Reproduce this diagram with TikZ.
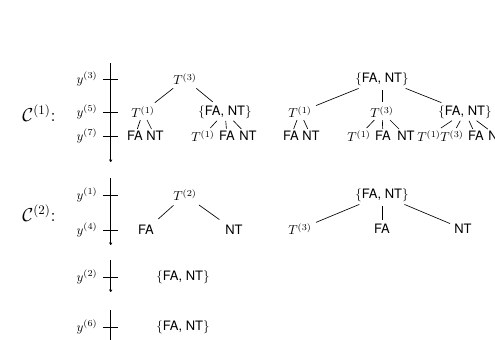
\documentclass[tikz,border=0pt]{standalone}
\usepackage{fontspec}
\setsansfont{TeX Gyre Heros}
\usetikzlibrary{arrows.meta}
\newcommand{\fa}{\textsf{FA}}
\newcommand{\nt}{\textsf{NT}}
\newcommand{\fant}{$\{$\textsf{FA, NT}$\}$}
\begin{document}
\begin{tikzpicture}[x=0.77pt,y=-0.77pt,
  tn/.style={inner sep=1.5pt,outer sep=0pt},
  br/.style={line width=0.5pt,shorten <=2pt,shorten >=2pt},
  leaf/.style={line width=0.5pt,shorten <=0.3pt,shorten >=0.3pt},
  brlong/.style={line width=0.5pt,shorten <=3pt,shorten >=5pt},
  axis/.style={line width=0.5pt},
  axisarrow/.style={line width=0.5pt,-{To[length=2pt,width=2.4pt]}},
  tick/.style={line width=0.5pt},
  lab/.style={inner sep=1pt}]
\useasboundingbox (0,0) rectangle (495,339);

% ---- time axes ----
\coordinate (a1s) at (110.7,63);  \coordinate (a1e) at (110.7,162);
\coordinate (a2s) at (110.7,178); \coordinate (a2e) at (110.7,245);
\coordinate (a3s) at (110.7,260); \coordinate (a3e) at (110.7,292);
\coordinate (a4s) at (110.7,310); \coordinate (a4e) at (110.7,345);
\draw[axisarrow] (a1s) -- (a1e);
\draw[axisarrow] (a2s) -- (a2e);
\draw[axisarrow] (a3s) -- (a3e);
\draw[axis] (a4s) -- (a4e);

% tick marks with their labels
\foreach \nm/\yy/\lb in {t3/79/3,t5/112/5,t7/136/7,t1/195/1,t4/230/4,t2/277/2,t6/327/6}{
  \coordinate (\nm) at (110.7,\yy);
  \draw[tick] ([xshift=-5.8pt]\nm) -- ([xshift=5.8pt]\nm);
  \node[lab] (l\nm) at (87,\yy) {$y^{(\lb)}$};
}

% ---- cluster labels ----
\node[lab] (c1) at (39,113) {\Large$\mathcal{C}^{(1)}$:};
\node[lab] (c2) at (39,213) {\Large$\mathcal{C}^{(2)}$:};

% ---- C(1), first tree ----
\node[tn] (p) at (185,79) {$T^{(3)}$};
\node[tn] (pa) at (143,112) {$T^{(1)}$};
\node[tn] (pb) at (225,112) {\fant};
\node[tn] (paa) at (135,136) {\fa};
\node[tn] (pab) at (155,136) {\nt};
\node[tn] (pba) at (203,136) {$T^{(1)}$};
\node[tn] (pbb) at (227,136) {\fa};
\node[tn] (pbc) at (248,136) {\nt};
\draw[br] (p) -- (pa);
\draw[br] (p) -- (pb);
\draw[leaf] (pa) -- (paa);
\draw[leaf] (pa) -- (pab);
\draw[leaf] (pb) -- (pba);
\draw[leaf] (pb) -- (pbb);
\draw[leaf] (pb) -- (pbc);

% ---- C(1), second tree ----
\node[tn] (q) at (382,79) {\fant};
\node[tn] (qa) at (300,112) {$T^{(1)}$};
\node[tn] (qb) at (382,112) {$T^{(3)}$};
\node[tn] (qc) at (465,112) {\fant};
\node[tn] (qaa) at (291,136) {\fa};
\node[tn] (qab) at (311,136) {\nt};
\node[tn] (qba) at (359,136) {$T^{(1)}$};
\node[tn] (qbb) at (383,136) {\fa};
\node[tn] (qbc) at (406,136) {\nt};
\node[tn] (qca) at (429,136) {$T^{(1)}$};
\node[tn] (qcb) at (452,136) {$T^{(3)}$};
\node[tn] (qcc) at (476,136) {\fa};
\node[tn] (qcd) at (497,136) {\nt};
\draw[br] (q) -- (qa);
\draw[br] (q) -- (qb);
\draw[br] (q) -- (qc);
\draw[leaf] (qa) -- (qaa);
\draw[leaf] (qa) -- (qab);
\draw[leaf] (qb) -- (qba);
\draw[leaf] (qb) -- (qbb);
\draw[leaf] (qb) -- (qbc);
\draw[leaf] (qc) -- (qca);
\draw[leaf] (qc) -- (qcb);
\draw[leaf] (qc) -- (qcc);
\draw[leaf] (qc) -- (qcd);

% ---- C(2), first tree ----
\node[tn] (r) at (185,195) {$T^{(2)}$};
\node[tn] (ra) at (146,230) {\fa};
\node[tn] (rb) at (234,230) {\nt};
\draw[brlong] (r) -- (ra);
\draw[brlong] (r) -- (rb);

% ---- C(2), second tree ----
\node[tn] (s) at (382,195) {\fant};
\node[tn] (sa) at (300,229) {$T^{(3)}$};
\node[tn] (sb) at (382,229) {\fa};
\node[tn] (sc) at (463,229) {\nt};
\draw[br] (s) -- (sa);
\draw[br] (s) -- (sb);
\draw[br] (s) -- (sc);

% ---- C(2), single sets ----
\node[tn] (u) at (183,277) {\fant};
\node[tn] (v) at (183,327) {\fant};
\end{tikzpicture}
\end{document}
